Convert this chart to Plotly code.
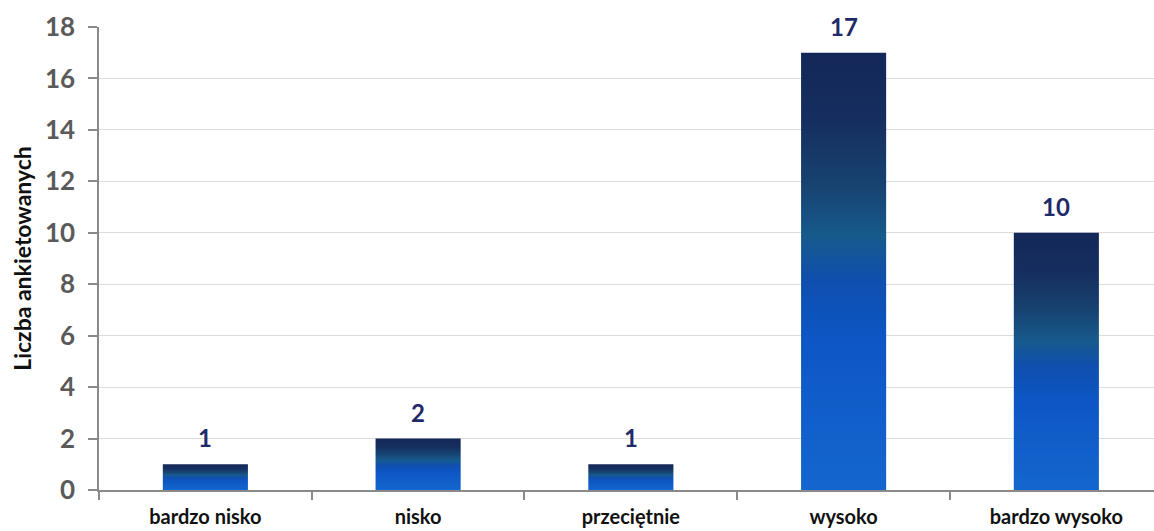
import plotly.graph_objects as go

categories = ["bardzo nisko", "nisko", "przeciętnie", "wysoko", "bardzo wysoko"]
values = [1, 2, 1, 17, 10]
y_ticks = [0, 2, 4, 6, 8, 10, 12, 14, 16, 18]

BAR_WIDTH = 0.40
FONT = "Lato"
gradient = [
    [0.0, "#1466cf"],
    [0.35, "#0d56c4"],
    [0.48, "#0f4fae"],
    [0.58, "#165a8c"],
    [0.70, "#174270"],
    [0.85, "#152e5f"],
    [1.0, "#142759"],
]

fig = go.Figure()
for i, (cat, v) in enumerate(zip(categories, values)):
    x0, x1 = i - BAR_WIDTH / 2, i + BAR_WIDTH / 2
    fig.add_trace(go.Scatter(
        x=[x0, x1, x1, x0, x0],
        y=[0, 0, v, v, 0],
        mode="lines",
        fill="toself",
        fillgradient=dict(type="vertical", colorscale=gradient),
        line=dict(width=0, color="rgba(0,0,0,0)"),
        name=cat,
        hoverinfo="skip",
        showlegend=False,
    ))
    fig.add_annotation(
        x=i, y=v, text=str(v), showarrow=False,
        yanchor="bottom", yshift=10,
        font=dict(family=FONT, size=24, color="#1f2a68", weight="bold"),
    )

fig.update_layout(
    width=1154, height=531,
    margin=dict(l=99, r=0, t=27, b=41),
    paper_bgcolor="white", plot_bgcolor="white",
    showlegend=False,
)
fig.update_xaxes(
    range=[-0.5, 4.459],
    automargin=False,
    tickmode="array",
    tickvals=list(range(len(categories))),
    ticktext=categories,
    ticks="",
    ticklabelstandoff=8,
    tickfont=dict(family=FONT, size=20, color="#111111", weight="bold"),
    showgrid=False,
    zeroline=False,
    showline=True, linecolor="#8a8a8a", linewidth=1.5,
    minor=dict(tickmode="array", tickvals=[-0.5, 0.5, 1.5, 2.5, 3.5],
               ticks="outside", ticklen=8, tickcolor="#8a8a8a", tickwidth=1.5,
               showgrid=False),
)
fig.update_yaxes(
    range=[0, 18],
    automargin=False,
    tickmode="array",
    tickvals=y_ticks,
    ticks="outside", ticklen=9, tickcolor="#8a8a8a", tickwidth=1.5,
    ticklabelstandoff=8,
    tickfont=dict(family=FONT, size=26, color="#5a5a5a", weight="bold"),
    showgrid=True, gridcolor="#dcdcdc", gridwidth=1,
    zeroline=False,
    showline=True, linecolor="#8a8a8a", linewidth=1.5,
    title=dict(text="Liczba ankietowanych", standoff=7,
               font=dict(family=FONT, size=23, color="#111111", weight="bold")),
)

fig.write_html("out.html", config={"displayModeBar": False},
               post_script="document.body.style.margin='0';")
